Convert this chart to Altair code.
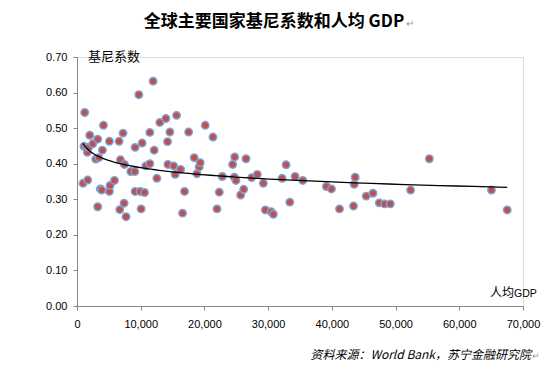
import altair as alt
import pandas as pd

gdp = [943, 1210, 1100, 1480, 1630, 1680, 1840, 2000, 2470, 2940, 3250, 3410, 3250, 3670, 3880,
       3990, 4150, 5090, 5190, 5090, 5880, 6600, 6710, 6820, 7230, 7390, 7450, 7700, 8440, 9070,
       9120, 9120, 9700, 9910, 10060, 10220, 10600, 10800, 11430, 11430, 11950, 12110, 12530, 13000,
       13950, 14210, 14260, 14580, 15160, 15410, 15630, 16260, 16570, 16880, 17520, 18400, 18820,
       19180, 19340, 20130, 21340, 21970, 22330, 22800, 24430, 24750, 24690, 24950, 25690, 26160,
       26530, 27420, 28300, 29250, 29560, 30460, 30820, 32190, 32810, 33400, 34230, 35440, 39150,
       39940, 41200, 43400, 43510, 43660, 45390, 46450, 47440, 48270, 49170, 52360, 55300, 65050, 67520]
gini = [0.345, 0.544, 0.449, 0.446, 0.432, 0.354, 0.446, 0.480, 0.456, 0.413, 0.469, 0.417, 0.279,
        0.329, 0.326, 0.438, 0.508, 0.322, 0.339, 0.463, 0.353, 0.463, 0.271, 0.411, 0.486, 0.289,
        0.398, 0.251, 0.378, 0.378, 0.446, 0.322, 0.594, 0.322, 0.273, 0.458, 0.319, 0.394, 0.400,
        0.488, 0.632, 0.438, 0.359, 0.516, 0.527, 0.462, 0.398, 0.489, 0.394, 0.370, 0.536, 0.384,
        0.261, 0.322, 0.489, 0.417, 0.372, 0.391, 0.403, 0.508, 0.475, 0.273, 0.320, 0.364, 0.398,
        0.419, 0.362, 0.353, 0.312, 0.328, 0.414, 0.361, 0.370, 0.345, 0.270, 0.265, 0.258, 0.359,
        0.397, 0.292, 0.364, 0.353, 0.336, 0.329, 0.273, 0.281, 0.342, 0.362, 0.309, 0.317, 0.290,
        0.287, 0.287, 0.326, 0.414, 0.326, 0.270]

x_ticks = [0, 10000, 20000, 30000, 40000, 50000, 60000, 70000]
y_ticks = [0.0, 0.1, 0.2, 0.3, 0.4, 0.5, 0.6, 0.7]

df = pd.DataFrame({"gdp": gdp, "gini": gini})

W, H = 446, 249
label_font = "Liberation Sans"
cjk = "Noto Sans CJK SC"

xenc = alt.X("gdp:Q", scale=alt.Scale(domain=[0, 70000], nice=False, zero=True),
             axis=alt.Axis(values=x_ticks, format=",.0f", title=None, grid=False, labelFlush=False,
                           labelFont=label_font, labelFontSize=11, labelColor="#000",
                           domainColor="#888", tickColor="#888", tickSize=4, labelPadding=8))
yenc = alt.Y("gini:Q", scale=alt.Scale(domain=[0, 0.7], nice=False, zero=True),
             axis=alt.Axis(values=y_ticks, format=".2f", title=None, grid=False, labelFlush=False,
                           labelFont=label_font, labelFontSize=11, labelColor="#000",
                           domainColor="#888", tickColor="#888", tickSize=4, labelPadding=6))

points = alt.Chart(df).mark_point(filled=True, shape="circle", size=55, fill="#C0504D",
                                  stroke="#7BA3D6", strokeWidth=1.5, opacity=1).encode(x=xenc, y=yenc)

trend = alt.Chart(df).transform_regression("gdp", "gini", method="log").mark_line(
    color="#000", strokeWidth=1.3).encode(x=xenc, y=yenc)

def txt(s, x, y, size, align="left", weight="normal", style="normal", font=cjk, color="#000"):
    return alt.Chart(pd.DataFrame({"t": [s]})).mark_text(
        align=align, baseline="middle", fontSize=size, fontWeight=weight, fontStyle=style,
        font=font, color=color).encode(text="t:N", x=alt.value(x), y=alt.value(y))

title = txt("全球主要国家基尼系数和人均 GDP", 197, -35, 17, align="center", weight="bold")
title_mark = txt("↵", 329, -33, 10, color="#999")
ylab = txt("基尼系数", 11, 0, 13)
xlab = txt("人均", 413, 236, 12)
xlab2 = txt("GDP", 437, 237, 10.5, font=label_font)
source = txt("资料来源：World Bank，苏宁金融研究院", 454, 298, 12, align="right", style="italic")
src_mark = txt("↵", 455, 299, 9, color="#999")

chart = alt.layer(points, trend, title, title_mark, ylab, xlab, xlab2, source, src_mark).resolve_scale(
    x="shared", y="shared"
).properties(
    width=W, height=H,
    autosize=alt.AutoSizeParams(type="none"),
    padding={"left": 69, "top": 49, "right": 19, "bottom": 56},
).configure_view(stroke=None).configure(background="white")

chart.save("out.html", embed_options={"renderer": "svg", "actions": False})
